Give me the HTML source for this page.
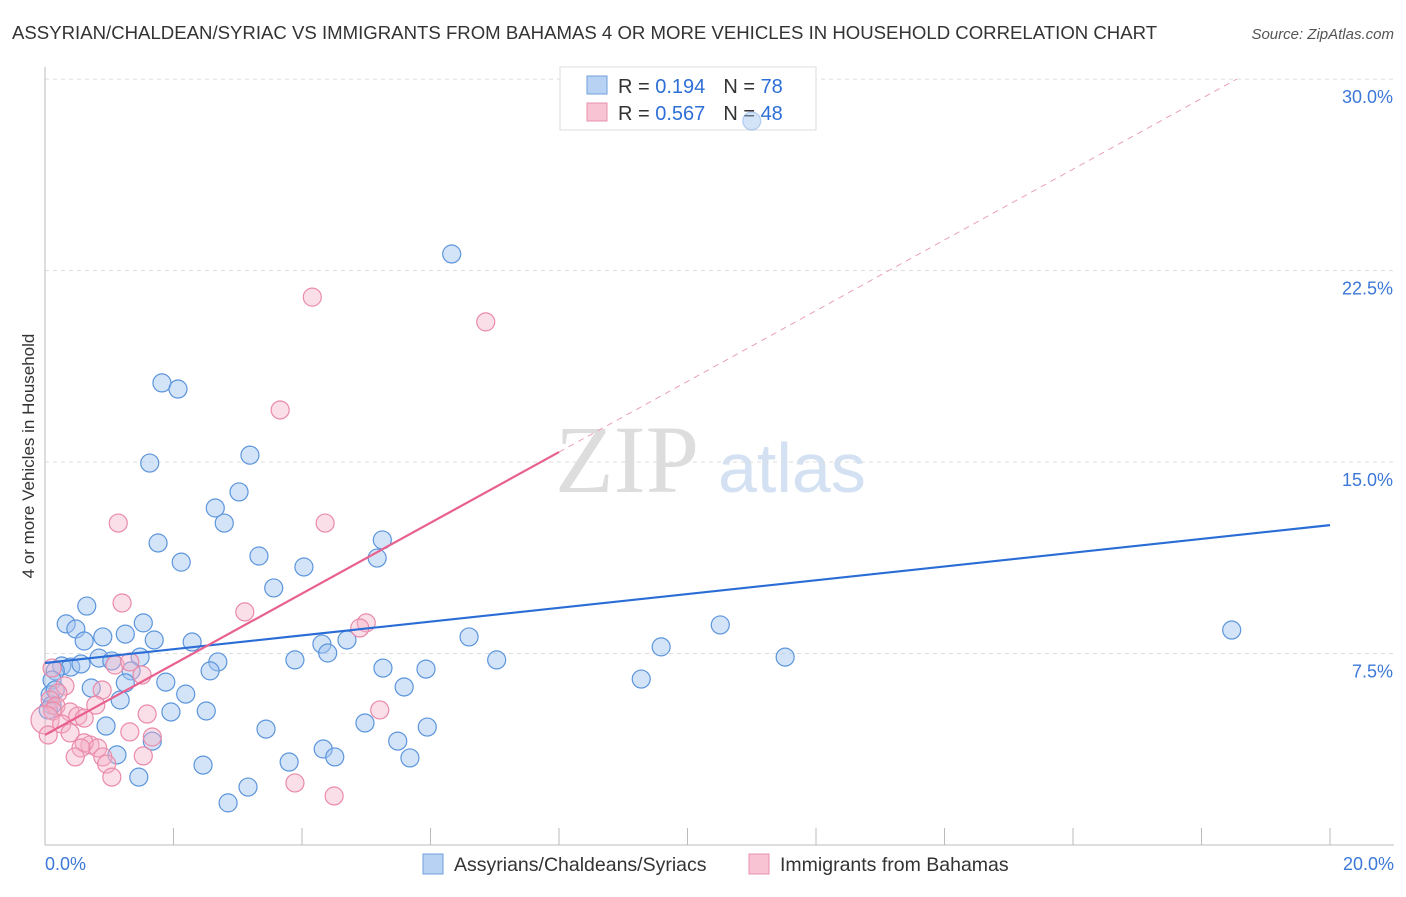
<!DOCTYPE html>
<html><head><meta charset="utf-8"><style>
body{margin:0;background:#fff;font-family:"Liberation Sans",sans-serif;}
svg text{font-family:"Liberation Sans",sans-serif;}
</style></head><body>
<svg id="chart" width="1406" height="892" xmlns="http://www.w3.org/2000/svg">
<text x="12" y="39" font-size="18.6" fill="#333">ASSYRIAN/CHALDEAN/SYRIAC VS IMMIGRANTS FROM BAHAMAS 4 OR MORE VEHICLES IN HOUSEHOLD CORRELATION CHART</text>
<text x="1394" y="39" font-size="15" fill="#555" font-style="italic" text-anchor="end">Source: ZipAtlas.com</text>
<text x="34" y="456" font-size="17" fill="#333" text-anchor="middle" transform="rotate(-90 34 456)">4 or more Vehicles in Household</text>
<text x="555" y="492" font-size="96" fill="#ddd" style="font-family:'Liberation Serif',serif">ZIP</text>
<text x="718" y="492" font-size="70" fill="#d3e1f3">atlas</text>
<g id="grid"></g><g id="axes"></g>
<g>
<rect x="560" y="67" width="256" height="63" fill="#fff" stroke="#ddd"/>
<rect x="587" y="76" width="20" height="18" fill="#b8d2f3" stroke="#6f9fdc"/>
<rect x="587" y="103" width="20" height="18" fill="#f8c4d4" stroke="#e990ad"/>
<text x="618" y="93" font-size="20" fill="#333">R = <tspan fill="#2e6fd6">0.194</tspan><tspan dx="18">N = </tspan><tspan fill="#2e6fd6">78</tspan></text>
<text x="618" y="120" font-size="20" fill="#333">R = <tspan fill="#2e6fd6">0.567</tspan><tspan dx="18">N = </tspan><tspan fill="#2e6fd6">48</tspan></text>
</g>
<g id="pts"></g><g id="lines"></g>
<g>
<rect x="423" y="854" width="20" height="20" fill="#b8d2f3" stroke="#6f9fdc"/>
<text x="454" y="871" font-size="19.5" fill="#333">Assyrians/Chaldeans/Syriacs</text>
<rect x="749" y="854" width="20" height="20" fill="#f8c4d4" stroke="#e990ad"/>
<text x="780" y="871" font-size="19.5" fill="#333">Immigrants from Bahamas</text>
</g>
</svg>
<script>
const yTicks=[7.5,15,22.5,30];
const yTickLabels=["7.5%","15.0%","22.5%","30.0%"];
const xTickVals=[0,2,4,6,8,10,12,14,16,18,20];
const blueX=[6.33,11.0,1.82,2.07,1.63,3.19,3.02,2.65,2.79,1.76,2.12,3.33,5.25,5.17,4.03,3.56,0.65,0.33,0.48,1.53,1.25,0.90,0.61,1.70,2.29,0.26,0.40,0.56,0.84,1.04,1.48,0.16,0.11,1.34,2.69,2.57,4.31,4.40,4.70,3.89,5.26,5.93,6.60,7.03,5.59,1.25,0.72,1.17,1.88,2.19,2.51,1.96,0.95,1.67,1.12,3.44,4.98,5.95,5.49,4.33,4.51,5.68,2.46,3.80,1.46,3.16,2.85,9.59,9.28,10.51,11.52,18.47,0.08,0.11,0.16,0.05];
const blueY=[23.15,28.36,18.10,17.86,14.96,15.27,13.83,13.20,12.61,11.83,11.08,11.32,11.95,11.24,10.89,10.07,9.36,8.66,8.46,8.70,8.26,8.15,7.99,8.03,7.95,7.01,6.97,7.09,7.32,7.21,7.36,6.82,6.46,6.82,7.17,6.82,7.87,7.52,8.03,7.25,6.93,6.89,8.15,7.25,6.19,6.35,6.15,5.68,6.38,5.91,5.25,5.21,4.66,4.07,3.53,4.54,4.78,4.62,4.07,3.76,3.45,3.41,3.13,3.25,2.66,2.27,1.65,7.76,6.50,8.62,7.36,8.42,5.88,5.48,6.07,5.29];
const pinkX=[4.16,6.86,3.66,1.14,4.36,1.20,3.11,5.00,4.90,1.09,1.32,1.51,0.11,0.31,0.89,0.20,0.08,0.17,0.12,0.0,0.39,0.79,0.51,0.61,0.26,0.39,1.59,5.21,0.70,0.61,0.82,0.56,0.47,1.32,1.67,0.90,0.96,1.53,1.04,3.89,4.50,0.05];
const pinkY=[21.46,20.49,17.04,12.61,12.61,9.48,9.13,8.70,8.50,7.05,7.17,6.66,6.93,6.23,6.07,5.95,5.68,5.44,5.25,4.90,5.21,5.48,5.05,4.97,4.74,4.39,5.13,5.29,3.92,4.00,3.80,3.80,3.45,4.43,4.23,3.45,3.17,3.49,2.66,2.43,1.92,4.31];
const blueTrend=[7.13,12.53];
const pinkTrend=[4.31,1.385];
const NS="http://www.w3.org/2000/svg";
const X=v=>45+v*64.25, Y=v=>845-v*25.53;
function mk(tag,attrs,parent){const e=document.createElementNS(NS,tag);for(const k in attrs)e.setAttribute(k,attrs[k]);document.getElementById(parent).appendChild(e);return e;}
yTicks.forEach((t,i)=>{
 const l=mk('line',{x1:45,x2:1394,y1:Y(t),y2:Y(t),stroke:'#ddd','stroke-dasharray':'4,4'},'grid');
 
 
 const tx=mk('text',{x:1393,y:Y(t)+24,'font-size':18,fill:'#3c78d8','text-anchor':'end'},'grid');
 tx.textContent=yTickLabels[i];
 
 
});
const ax=mk('line',{x1:45,x2:1394,y1:845,y2:845,stroke:'#bbb'},'axes');


const ay=mk('line',{x1:45,x2:45,y1:67,y2:845,stroke:'#bbb'},'axes');


xTickVals.forEach(v=>{const t=mk('line',{x1:X(v),x2:X(v),y1:828,y2:845,stroke:'#bbb'},'axes');
 
 });
[[0,'0.0%','start',45],[20,'20.0%','end',1394]].forEach(a=>{const t=mk('text',{x:a[3],y:870,'font-size':18,fill:'#3c78d8','text-anchor':a[2]},'axes');t.textContent=a[1];
 
 });
blueX.forEach((v,i)=>{const c=mk('circle',{cx:X(v),cy:Y(blueY[i]),r:9,fill:'rgba(160,196,240,0.45)',stroke:i==1?'rgba(92,149,220,0.4)':'#5c95dc','stroke-width':1.2},'pts');
 
 });
pinkX.forEach((v,i)=>{const c=mk('circle',{cx:X(v),cy:Y(pinkY[i]),r:i==19?14:9,fill:'rgba(246,176,198,0.4)',stroke:'#ea8aa9','stroke-width':1.2},'pts');
 
 });
const bl=mk('line',{x1:X(0),y1:Y(blueTrend[0]),x2:X(20),y2:Y(blueTrend[1]),stroke:'#2a6dd6','stroke-width':2.2},'lines');


const pl=mk('line',{x1:X(0),y1:Y(pinkTrend[0]),x2:X(8),y2:Y(pinkTrend[0]+8*pinkTrend[1]),stroke:'#e8608e','stroke-width':2.2},'lines');


const pd=mk('line',{x1:X(8),y1:Y(pinkTrend[0]+8*pinkTrend[1]),x2:X(18.55),y2:Y(pinkTrend[0]+18.55*pinkTrend[1]),stroke:'#eaa0b8','stroke-width':1,'stroke-dasharray':'6,5'},'lines');


</script>
</body></html>
